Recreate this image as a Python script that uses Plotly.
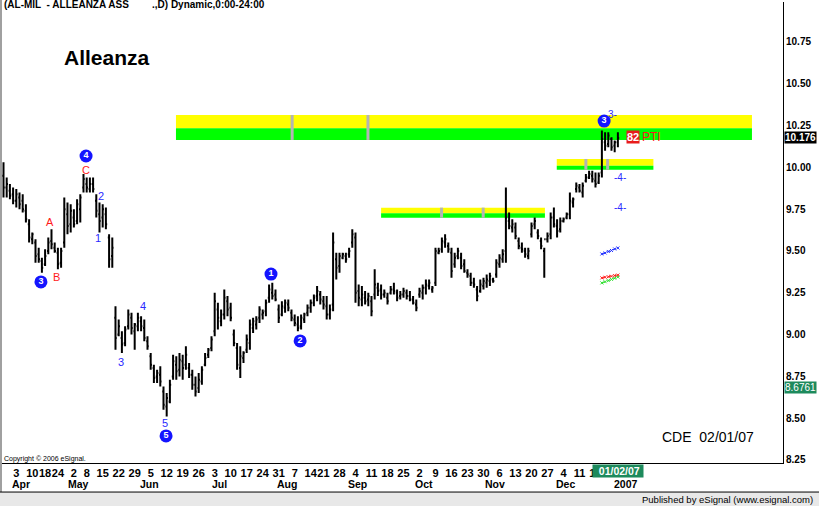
import pandas as pd
import plotly.graph_objects as go

FONT = "Liberation Sans, Arial, sans-serif"

# trading days on the chart (exchange closures dropped)
HOLIDAYS = ["2006-04-14", "2006-04-17", "2006-05-01", "2006-08-15",
            "2006-12-25", "2006-12-26", "2006-12-29"]
dates = pd.bdate_range("2006-03-28", "2007-01-02")
dates = dates[~dates.isin(pd.to_datetime(HOLIDAYS))]

HIGH = [10.03, 9.94, 9.90, 9.88, 9.87, 9.85, 9.84, 9.78, 9.69, 9.61,
        9.57, 9.52, 9.46, 9.51, 9.58, 9.63, 9.55, 9.52, 9.52, 9.82,
        9.79, 9.78, 9.75, 9.81, 9.84, 9.96, 9.94, 9.94, 9.94, 9.84,
        9.79, 9.78, 9.76, 9.60, 9.58, 9.17, 9.09, 9.02, 9.05, 9.15,
        9.13, 9.07, 9.13, 9.11, 9.09, 8.99, 8.89, 8.82, 8.79, 8.81,
        8.69, 8.65, 8.73, 8.88, 8.87, 8.89, 8.88, 8.93, 8.83, 8.79,
        8.75, 8.77, 8.81, 8.89, 8.92, 8.99, 9.25, 9.19, 9.15, 9.27,
        9.23, 9.19, 9.03, 8.95, 8.93, 8.90, 9.00, 9.09, 9.10, 9.11,
        9.17, 9.15, 9.21, 9.30, 9.31, 9.27, 9.18, 9.20, 9.21, 9.21,
        9.15, 9.12, 9.11, 9.12, 9.13, 9.18, 9.21, 9.24, 9.29, 9.26,
        9.23, 9.23, 9.18, 9.61, 9.49, 9.49, 9.49, 9.49, 9.52, 9.63,
        9.61, 9.30, 9.29, 9.26, 9.25, 9.23, 9.39, 9.31, 9.30, 9.27,
        9.25, 9.29, 9.31, 9.27, 9.26, 9.28, 9.27, 9.26, 9.23, 9.21,
        9.28, 9.30, 9.33, 9.33, 9.29, 9.52, 9.52, 9.58, 9.60, 9.55,
        9.52, 9.49, 9.52, 9.49, 9.45, 9.39, 9.37, 9.34, 9.29, 9.33,
        9.34, 9.36, 9.37, 9.34, 9.45, 9.48, 9.51, 9.88, 9.73, 9.69,
        9.67, 9.58, 9.55, 9.52, 9.52, 9.67, 9.70, 9.63, 9.58, 9.52,
        9.61, 9.73, 9.76, 9.69, 9.70, 9.70, 9.73, 9.85, 9.82, 9.91,
        9.90, 9.91, 9.96, 9.98, 9.98, 9.97, 9.97, 10.22, 10.21, 10.21,
        10.18, 10.16, 10.21]
LOW = [9.82, 9.82, 9.81, 9.78, 9.76, 9.75, 9.73, 9.67, 9.55, 9.54,
       9.43, 9.43, 9.37, 9.41, 9.48, 9.51, 9.49, 9.39, 9.40, 9.52,
       9.60, 9.61, 9.64, 9.66, 9.67, 9.85, 9.85, 9.85, 9.85, 9.70,
       9.61, 9.64, 9.63, 9.40, 9.40, 8.91, 8.99, 8.89, 8.93, 9.03,
       9.00, 8.91, 9.02, 9.02, 8.96, 8.91, 8.79, 8.71, 8.71, 8.69,
       8.55, 8.51, 8.59, 8.73, 8.73, 8.75, 8.73, 8.79, 8.74, 8.67,
       8.63, 8.65, 8.70, 8.81, 8.86, 8.90, 8.99, 9.03, 9.05, 9.09,
       9.11, 9.08, 8.93, 8.79, 8.74, 8.83, 8.89, 8.91, 9.01, 9.03,
       9.07, 9.09, 9.11, 9.19, 9.21, 9.20, 9.07, 9.11, 9.13, 9.14,
       9.08, 9.05, 9.02, 9.03, 9.07, 9.11, 9.13, 9.17, 9.20, 9.18,
       9.15, 9.09, 9.09, 9.14, 9.33, 9.37, 9.45, 9.43, 9.46, 9.52,
       9.19, 9.17, 9.17, 9.18, 9.17, 9.11, 9.21, 9.23, 9.21, 9.22,
       9.18, 9.24, 9.24, 9.20, 9.21, 9.22, 9.21, 9.20, 9.18, 9.14,
       9.22, 9.21, 9.24, 9.27, 9.25, 9.29, 9.48, 9.49, 9.52, 9.49,
       9.34, 9.40, 9.45, 9.39, 9.37, 9.34, 9.29, 9.28, 9.20, 9.25,
       9.27, 9.28, 9.29, 9.31, 9.34, 9.40, 9.43, 9.43, 9.63, 9.61,
       9.57, 9.51, 9.49, 9.46, 9.45, 9.58, 9.63, 9.57, 9.51, 9.34,
       9.55, 9.57, 9.64, 9.58, 9.61, 9.67, 9.69, 9.69, 9.76, 9.85,
       9.85, 9.82, 9.91, 9.93, 9.91, 9.88, 9.90, 9.94, 10.10, 10.12,
       10.10, 10.09, 10.12]
OPEN = [9.95, 9.88, 9.86, 9.84, 9.80, 9.82, 9.80, 9.74, 9.66, 9.57,
        9.55, 9.48, 9.44, 9.42, 9.50, 9.56, 9.52, 9.49, 9.43, 9.55,
        9.72, 9.66, 9.70, 9.68, 9.75, 9.88, 9.90, 9.87, 9.90, 9.80,
        9.72, 9.70, 9.72, 9.58, 9.47, 9.10, 9.00, 8.98, 8.95, 9.05,
        9.10, 9.02, 9.05, 9.08, 9.04, 8.96, 8.87, 8.80, 8.75, 8.76,
        8.66, 8.57, 8.60, 8.75, 8.82, 8.79, 8.84, 8.82, 8.80, 8.76,
        8.70, 8.68, 8.72, 8.82, 8.88, 8.92, 9.02, 9.15, 9.08, 9.12,
        9.20, 9.16, 9.00, 8.92, 8.80, 8.86, 8.91, 8.95, 9.04, 9.06,
        9.10, 9.12, 9.14, 9.22, 9.25, 9.24, 9.15, 9.12, 9.16, 9.18,
        9.13, 9.09, 9.06, 9.05, 9.09, 9.13, 9.16, 9.19, 9.23, 9.24,
        9.20, 9.17, 9.12, 9.18, 9.45, 9.41, 9.46, 9.47, 9.48, 9.55,
        9.58, 9.26, 9.21, 9.22, 9.21, 9.20, 9.24, 9.28, 9.27, 9.24,
        9.22, 9.25, 9.27, 9.25, 9.23, 9.24, 9.25, 9.23, 9.21, 9.18,
        9.24, 9.25, 9.28, 9.29, 9.27, 9.31, 9.49, 9.51, 9.55, 9.53,
        9.49, 9.42, 9.47, 9.46, 9.42, 9.37, 9.35, 9.31, 9.27, 9.26,
        9.29, 9.31, 9.32, 9.33, 9.36, 9.42, 9.45, 9.50, 9.68, 9.64,
        9.64, 9.56, 9.52, 9.50, 9.47, 9.60, 9.66, 9.61, 9.56, 9.50,
        9.57, 9.60, 9.70, 9.65, 9.63, 9.68, 9.70, 9.72, 9.79, 9.87,
        9.88, 9.85, 9.92, 9.94, 9.95, 9.92, 9.91, 9.97, 10.15, 10.14,
        10.17, 10.13, 10.15]
CLOSE = [9.88, 9.90, 9.83, 9.80, 9.84, 9.78, 9.75, 9.69, 9.58, 9.60,
         9.47, 9.45, 9.40, 9.47, 9.55, 9.54, 9.50, 9.42, 9.50, 9.75,
         9.65, 9.74, 9.66, 9.78, 9.82, 9.93, 9.88, 9.90, 9.87, 9.74,
         9.68, 9.75, 9.66, 9.45, 9.52, 8.98, 9.05, 8.94, 9.03, 9.12,
         9.04, 9.06, 9.10, 9.05, 8.98, 8.93, 8.82, 8.74, 8.77, 8.72,
         8.58, 8.62, 8.70, 8.84, 8.78, 8.85, 8.80, 8.88, 8.76, 8.70,
         8.66, 8.73, 8.79, 8.86, 8.91, 8.97, 9.20, 9.10, 9.12, 9.22,
         9.15, 9.10, 8.95, 8.82, 8.87, 8.89, 8.97, 9.06, 9.08, 9.09,
         9.15, 9.13, 9.19, 9.27, 9.23, 9.21, 9.10, 9.17, 9.19, 9.16,
         9.10, 9.07, 9.04, 9.10, 9.12, 9.16, 9.19, 9.22, 9.26, 9.21,
         9.18, 9.12, 9.15, 9.55, 9.40, 9.47, 9.48, 9.45, 9.50, 9.60,
         9.25, 9.22, 9.24, 9.20, 9.23, 9.14, 9.30, 9.26, 9.24, 9.25,
         9.20, 9.27, 9.26, 9.22, 9.24, 9.26, 9.23, 9.21, 9.19, 9.16,
         9.26, 9.28, 9.30, 9.31, 9.28, 9.50, 9.50, 9.56, 9.57, 9.51,
         9.38, 9.46, 9.50, 9.41, 9.38, 9.36, 9.31, 9.30, 9.23, 9.30,
         9.32, 9.33, 9.35, 9.32, 9.43, 9.46, 9.48, 9.70, 9.65, 9.66,
         9.59, 9.53, 9.51, 9.48, 9.50, 9.65, 9.68, 9.59, 9.53, 9.57,
         9.59, 9.70, 9.66, 9.62, 9.68, 9.69, 9.72, 9.80, 9.81, 9.89,
         9.86, 9.89, 9.94, 9.96, 9.93, 9.90, 9.95, 10.17, 10.13, 10.19,
         10.12, 10.15, 10.176]

# day ticks (first session of each week) and month captions
TICK_DATES = ["2006-04-03", "2006-04-10", "2006-04-18", "2006-04-24", "2006-05-02",
              "2006-05-08", "2006-05-15", "2006-05-22", "2006-05-29", "2006-06-05",
              "2006-06-12", "2006-06-19", "2006-06-26", "2006-07-03", "2006-07-10",
              "2006-07-17", "2006-07-24", "2006-07-31", "2006-08-07", "2006-08-14",
              "2006-08-21", "2006-08-28", "2006-09-04", "2006-09-11", "2006-09-18",
              "2006-09-25", "2006-10-02", "2006-10-09", "2006-10-16", "2006-10-23",
              "2006-10-30", "2006-11-06", "2006-11-13", "2006-11-20", "2006-11-27",
              "2006-12-04", "2006-12-11", "2006-12-18"]
MONTHS = ["Apr", "May", "Jun", "Jul", "Aug", "Sep", "Oct", "Nov", "Dec", "2007"]
MONTH_START = ["2006-04-03", "2006-05-02", "2006-06-01", "2006-07-03", "2006-08-01",
               "2006-09-01", "2006-10-02", "2006-11-01", "2006-12-01", "2007-01-02"]

PRICE_TICKS = [8.25, 8.50, 8.75, 9.00, 9.25, 9.50, 9.75, 10.00, 10.25, 10.50, 10.75]

# zones: start, end (bar index), yellow top, split, green bottom, grey markers
ZONES = [(53.9, 233.9, 10.313, 10.234, 10.164, [90.2, 113.9]),
         (118.0, 169.2, 9.759, 9.725, 9.699, [136.9, 149.9]),
         (172.9, 203.1, 10.050, 10.010, 9.986, [182.0, 188.8])]

# elliott wave markers
CIRCLE_X = [11.7, 25.8, 50.8, 83.6, 92.7, 187.7]
CIRCLE_Y = [9.315, 10.068, 8.394, 9.362, 8.962, 10.277]
CIRCLE_TXT = ["3", "4", "5", "1", "2", "3"]
RED_X = [14.5, 16.7, 25.8]
RED_Y = [9.673, 9.345, 9.984]
RED_TXT = ["A", "B", "C"]
BLUE_X = [30.5, 29.5, 36.7, 43.6, 50.5]
BLUE_Y = [9.829, 9.578, 8.836, 9.171, 8.471]
BLUE_TXT = ["2", "1", "3", "4", "5"]

# short projection strokes at the right end
PROJ_X = [187, 188, 189, 190, 191, 192]
PROJ_BLUE = [9.482, 9.488, 9.497, 9.503, 9.512, 9.518]
PROJ_RED = [9.339, 9.343, 9.346, 9.349, 9.353, 9.356]
PROJ_GREEN = [9.309, 9.316, 9.323, 9.330, 9.337, 9.344]

xi = list(range(len(dates)))
loc = {d: i for i, d in enumerate(dates)}
tickvals = [loc[pd.Timestamp(d)] for d in TICK_DATES]
ticktext = [str(pd.Timestamp(d).day) for d in TICK_DATES]

fig = go.Figure()

for x0, x1, ytop, ymid, ybot, marks in ZONES:
    fig.add_shape(type="rect", x0=x0, x1=x1, y0=ymid, y1=ytop,
                  fillcolor="#ffff00", line_width=0, layer="below")
    fig.add_shape(type="rect", x0=x0, x1=x1, y0=ybot, y1=ymid,
                  fillcolor="#00ff00", line_width=0, layer="below")
    for m in marks:
        fig.add_shape(type="line", x0=m, x1=m, y0=ybot, y1=ytop,
                      line=dict(color="#b4b4b4", width=3), layer="below")

fig.add_trace(go.Ohlc(
    x=xi, open=OPEN, high=HIGH, low=LOW, close=CLOSE,
    increasing=dict(line=dict(color="black", width=2)),
    decreasing=dict(line=dict(color="black", width=2)),
    tickwidth=0.4, hoverinfo="skip", showlegend=False))

for ys, col in [(PROJ_BLUE, "#2030ff"), (PROJ_RED, "#ff2020"), (PROJ_GREEN, "#30e030")]:
    fig.add_trace(go.Scatter(x=PROJ_X, y=ys, mode="lines+markers",
                             line=dict(color=col, width=1, dash="dot"),
                             marker=dict(symbol="x-thin-open", size=3, color=col,
                                         line=dict(color=col, width=1)),
                             hoverinfo="skip", showlegend=False))

fig.add_trace(go.Scatter(
    x=CIRCLE_X, y=CIRCLE_Y, mode="markers+text", text=CIRCLE_TXT,
    textposition="middle center",
    marker=dict(size=13, color="#1414ff"),
    textfont=dict(color="white", size=9, family=FONT, weight="bold"),
    hoverinfo="skip", showlegend=False))

for x, y, t in zip(RED_X, RED_Y, RED_TXT):
    fig.add_annotation(x=x, y=y, text=t, showarrow=False,
                       font=dict(color="#ff1a1a", size=11, family=FONT))
for x, y, t in zip(BLUE_X, BLUE_Y, BLUE_TXT):
    fig.add_annotation(x=x, y=y, text=t, showarrow=False,
                       font=dict(color="#2a2aff", size=11, family=FONT))

fig.add_annotation(x=190.2, y=10.319, text="3-", showarrow=False,
                   font=dict(color="#2a2aff", size=10, family=FONT))
for y in [9.937, 9.763]:
    fig.add_annotation(x=192.7, y=y, text="-4-", showarrow=False,
                       font=dict(color="#2a2aff", size=10, family=FONT))
fig.add_annotation(x=196.7, y=10.184, text="<b>82</b>", showarrow=False,
                   bgcolor="#e81c1c", borderpad=0,
                   font=dict(color="white", size=11, family=FONT))
fig.add_annotation(x=202.6, y=10.184, text="PTI", showarrow=False,
                   font=dict(color="#ff1a1a", size=12, family=FONT))

# text blocks on the chart
fig.add_annotation(xref="paper", yref="paper", x=0.0013, y=0.9935, xanchor="left",
                   yanchor="middle", text="<b>(AL-MIL  - ALLEANZA ASS</b>",
                   showarrow=False, font=dict(size=10, color="black", family=FONT))
fig.add_annotation(xref="paper", yref="paper", x=0.1905, y=0.9935, xanchor="left",
                   yanchor="middle", text="<b>.,D) Dynamic,0:00-24:00</b>",
                   showarrow=False, font=dict(size=10, color="black", family=FONT))
fig.add_annotation(xref="paper", yref="paper", x=0.0780, y=0.8786, xanchor="left",
                   yanchor="middle", text="<b>Alleanza</b>", showarrow=False,
                   font=dict(size=21, color="black", family=FONT))
fig.add_annotation(xref="paper", yref="paper", x=0.8427, y=0.0564, xanchor="left",
                   yanchor="middle", text="CDE  02/01/07", showarrow=False,
                   font=dict(size=14, color="black", family=FONT))
fig.add_annotation(xref="paper", yref="paper", x=0.0013, y=0.0087, xanchor="left",
                   yanchor="middle", text="Copyright © 2006 eSignal.", showarrow=False,
                   font=dict(size=7, color="black", family=FONT))

# month captions under the day numbers
for m, d in zip(MONTHS, MONTH_START):
    fig.add_annotation(x=loc[pd.Timestamp(d)], xref="x", y=0, yref="paper",
                       yanchor="middle", yshift=-21, xshift=5, text=f"<b>{m}</b>",
                       showarrow=False, font=dict(size=10.5, color="black", family=FONT))

# cursor date flag (covers the last weekly tick, as in the original) and price flags
fig.add_annotation(x=loc[pd.Timestamp("2007-01-02")] - 0.9, y=0, yref="paper",
                   yanchor="middle", yshift=-8,
                   text="<b>\u00a0\u00a001/02/07\u00a0</b>", showarrow=False,
                   bgcolor="#1d8a5c", borderpad=0,
                   font=dict(size=10.5, color="white", family=FONT))
fig.add_annotation(xref="paper", x=1.0013, y=10.176, xanchor="left",
                   text="<b>10.176</b>", showarrow=False, bgcolor="black", borderpad=0,
                   font=dict(size=10, color="white", family=FONT))
fig.add_annotation(xref="paper", x=1.0013, y=8.684, xanchor="left",
                   text="8.6761", showarrow=False, bgcolor="#1d8a5c", borderpad=0,
                   font=dict(size=10, color="white", family=FONT))

# frame: grey left edge, rule under dates, status strip
fig.add_shape(type="line", xref="paper", yref="paper", x0=0, x1=0, y0=-0.063, y1=1.005,
              line=dict(color="#a0a0a0", width=2))
fig.add_shape(type="rect", xref="paper", yref="paper", x0=-0.002, x1=1.047,
              y0=-0.095, y1=-0.063, fillcolor="#e8e8e8", line_width=0)
fig.add_shape(type="line", xref="paper", yref="paper", x0=-0.002, x1=1.047,
              y0=-0.063, y1=-0.063, line=dict(color="black", width=1))
fig.add_annotation(xref="paper", yref="paper", x=1.0409, y=-0.0785, xanchor="right",
                   yanchor="middle", text="Published by eSignal (www.esignal.com)",
                   showarrow=False, font=dict(size=9.5, color="black", family=FONT))

fig.update_layout(
    width=819, height=506,
    margin=dict(l=1, r=36, t=2, b=43),
    paper_bgcolor="white", plot_bgcolor="white",
    showlegend=False,
    xaxis=dict(range=[-0.78, 243.6], tickvals=tickvals, ticktext=ticktext,
               tickangle=0,
               showgrid=False, zeroline=False, showline=True, linecolor="black",
               linewidth=1, ticks="", rangeslider=dict(visible=False),
               tickfont=dict(size=11, color="black", family=FONT, weight="bold")),
    yaxis=dict(side="right", range=[8.232, 10.989], tickvals=PRICE_TICKS,
               ticktext=[f"{v:.2f}" for v in PRICE_TICKS],
               showgrid=False, zeroline=False, showline=True, linecolor="black",
               linewidth=1, ticks="",
               tickfont=dict(size=10, color="black", family=FONT, weight="bold")),
)

# the page's default body margin would shift the chart by 8px
fig.write_html("out.html", config={"displayModeBar": False},
               post_script="document.body.style.margin='0';")
